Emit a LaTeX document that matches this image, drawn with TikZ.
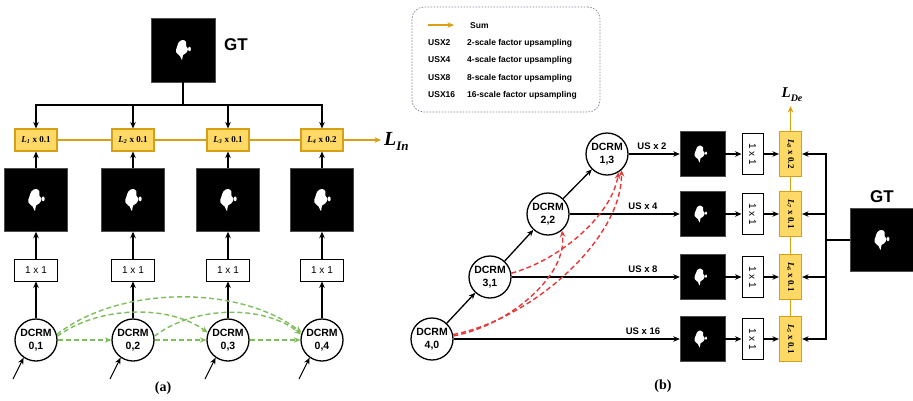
\documentclass[tikz,border=0pt]{standalone}
\usepackage{fontspec}
\usepackage{graphicx}
\setmainfont{Liberation Serif}
\setsansfont{Liberation Sans}
\usetikzlibrary{arrows.meta}

\definecolor{lossfill}{RGB}{255,217,102}
\definecolor{lossedge}{RGB}{214,160,20}
\definecolor{sumline}{RGB}{217,160,20}
\definecolor{skipgreen}{RGB}{125,190,90}
\definecolor{skipred}{RGB}{232,55,55}
\definecolor{legendedge}{RGB}{120,130,150}

\tikzset{
  blob/.pic={
    \fill[white] plot[smooth cycle,tension=0.7] coordinates
      {(-4,-8) (0,-10) (3,-8) (3,-4) (5,-1) (3,3) (0,5) (-1,10) (-3,6) (-7,2) (-6,-3)};
    \fill[white] (6.5,-1) ellipse (1.4 and 2.2);
  }
}

\begin{document}
\begin{tikzpicture}[x=1pt,y=-1pt,
  >={Stealth[length=6.5pt,width=5.5pt]},
  conn/.style={line width=1.3pt,->},
  feed/.style={line width=1pt,->},
  dcrm/.style={circle,draw,line width=1.3pt,minimum size=42pt,inner sep=0pt,align=center,
    font=\sffamily\bfseries\fontsize{10.5}{12.5}\selectfont},
  mask/.style={fill=black,draw=black!70,minimum size=#1,inner sep=0pt},
  convh/.style={draw,line width=0.9pt,minimum width=43pt,minimum height=22pt,inner sep=0pt,
    font=\sffamily\fontsize{10}{12}\selectfont},
  convv/.style={draw,line width=0.9pt,minimum width=21pt,minimum height=41pt,inner sep=0pt,
    font=\sffamily\fontsize{10}{12}\selectfont},
  lossh/.style={draw=lossedge,fill=lossfill,line width=1.1pt,minimum width=42pt,minimum height=22pt,
    inner sep=0pt,font=\bfseries\fontsize{9}{10}\selectfont},
  lossv/.style={draw=lossedge,fill=lossfill,line width=1.1pt,minimum width=22pt,minimum height=45pt,
    inner sep=0pt,font=\bfseries\fontsize{9}{10}\selectfont},
  sum/.style={draw=sumline,line width=1.2pt},
  gskip/.style={draw=skipgreen,line width=1.4pt,dash pattern=on 5pt off 3pt,->},
  rskip/.style={draw=skipred,line width=1.4pt,dash pattern=on 5pt off 3pt,->},
  gtlab/.style={font=\sffamily\bfseries\fontsize{17}{20}\selectfont},
  uslab/.style={font=\sffamily\bfseries\fontsize{9.5}{11}\selectfont},
  legtext/.style={anchor=west,inner sep=0pt,font=\sffamily\bfseries\fontsize{8.5}{10}\selectfont},
  caption/.style={font=\bfseries\fontsize{14}{16}\selectfont},
]
\useasboundingbox (0,0) rectangle (913,400);

% ---------------- (a) intermediate supervision ----------------
\node[mask=64pt] (gtA) at (183,50) {};
\pic at (gtA) {blob};
\node[gtlab] (gtAlab) at (236,45) {GT};
\coordinate (jA) at (183,105);
\draw[line width=1.3pt] (gtA.south) -- (jA);

\foreach \i/\x/\w in {1/36/0.1,2/133/0.1,3/228/0.1,4/322/0.2}{
  \node[lossh] (lA\i) at (\x,140) {\textit{L}\textsubscript{\textit{\i}} x \w};
  \node[mask=63pt] (pA\i) at (\x,200) {};
  \pic[scale=1.1] at (pA\i) {blob};
  \node[convh] (cA\i) at (\x,270) {1 x 1};
  \node[dcrm] (dA\i) at (\x,340) {DCRM\\0,\i};
  \coordinate (iA\i) at (\x-23,379);
  \draw[conn] (jA) -| (lA\i.north);
  \draw[conn] (pA\i.north) -- (lA\i.south);
  \draw[conn] (cA\i.north) -- (pA\i.south);
  \draw[conn] (dA\i.north) -- (cA\i.south);
  \draw[feed] (iA\i) -- (dA\i.235);
}

% summation of the intermediate losses
\draw[sum] (lA1.east) -- (lA2.west);
\draw[sum] (lA2.east) -- (lA3.west);
\draw[sum] (lA3.east) -- (lA4.west);
\coordinate (lInEnd) at (381,140);
\draw[sum,->] (lA4.east) -- (lInEnd);
\node[anchor=west,inner sep=0pt] (lIn) at (384,141)
  {\fontsize{20}{22}\selectfont\bfseries\itshape L\raisebox{-5pt}{\fontsize{13}{14}\selectfont In}};

% dense skip connections between the top-row blocks
\draw[gskip] (dA1.east) -- (dA2.west);
\draw[gskip] (dA2.east) -- (dA3.west);
\draw[gskip] (dA3.east) -- (dA4.west);
\draw[gskip] (dA1.10) .. controls (100,305) and (170,305) .. (dA3.160);
\draw[gskip] (dA1.15) .. controls (120,285) and (240,285) .. (dA4.160);
\draw[gskip] (dA2.10) .. controls (195,305) and (265,305) .. (dA4.165);

\node[caption] (capA) at (163,388) {(a)};

% ---------------- legend ----------------
\node[draw=legendedge,line width=0.7pt,dash pattern=on 1.5pt off 1.5pt,rounded corners=12pt,
  minimum width=188pt,minimum height=105pt] (legend) at (506,59.5) {};
\coordinate (sumA) at (428,25);
\coordinate (sumB) at (454,25);
\draw[sum,->] (sumA) -- (sumB);
\node[legtext] (sumlab) at (470,26) {Sum};
\foreach \k/\y/\t in {2/43/2,4/60/4,8/78/8,16/95/16}{
  \node[legtext] (usk\k) at (428,\y) {USX\k};
  \node[legtext] (usd\k) at (467,\y) {\t-scale factor upsampling};
}

% ---------------- (b) decoder supervision ----------------
\node[dcrm] (d13) at (607,154) {DCRM\\1,3};
\node[dcrm] (d22) at (548,214) {DCRM\\2,2};
\node[dcrm] (d31) at (490,277) {DCRM\\3,1};
\node[dcrm] (d40) at (432,339) {DCRM\\4,0};
\draw[conn] (d40) -- (d31);
\draw[conn] (d31) -- (d22);
\draw[conn] (d22) -- (d13);

\node[mask=63pt] (gtB) at (881.5,240) {};
\pic at (gtB) {blob};
\node[gtlab] (gtBlab) at (882,197) {GT};
\coordinate (jB) at (826,240);
\draw[line width=1.3pt] (gtB.west) -- (jB);

\foreach \r/\y/\src/\k/\w/\us/\ux in
  {1/154/d13/8/0.2/2/652, 2/214/d22/7/0.1/4/643, 3/277/d31/6/0.1/8/643, 4/339/d40/5/0.1/16/643}{
  \node[mask=45pt] (pB\r) at (702.5,\y) {};
  \pic[scale=0.85] at ([xshift=-2pt]pB\r) {blob};
  \node[convv] (cB\r) at (752.5,\y) {\rotatebox{-90}{1 x 1}};
  \node[lossv] (lB\r) at (790.5,\y) {\rotatebox{-90}{\textit{L}\textsubscript{\textit{\k}} x \w}};
  \draw[conn] (\src.east) -- (pB\r.west);
  \node[uslab] (us\r) at (\ux,\y-8) {US x \us};
  \draw[conn] (pB\r.east) -- (cB\r.west);
  \draw[conn] (cB\r.east) -- (lB\r.west);
  \draw[conn] (jB) |- (lB\r.east);
}

% summation of the decoder losses
\draw[sum] (lB1.south) -- (lB2.north);
\draw[sum] (lB2.south) -- (lB3.north);
\draw[sum] (lB3.south) -- (lB4.north);
\coordinate (lDeEnd) at (790.5,106);
\draw[sum,->] (lB1.north) -- (lDeEnd);
\node[inner sep=0pt] (lDe) at (792,95)
  {\fontsize{15}{17}\selectfont\bfseries\itshape L\raisebox{-4pt}{\fontsize{10}{11}\selectfont De}};

% deep skip connections towards the upper decoder blocks
\draw[rskip] (d40.8) .. controls (510,325) and (568,275) .. (d22.-50);
\draw[rskip] (d40.12) .. controls (530,320) and (622,240) .. (d13.-48);
\draw[rskip] (d31.10) .. controls (560,260) and (612,215) .. (d13.-58);

\node[caption] (capB) at (663,386) {(b)};
\end{tikzpicture}
\end{document}
